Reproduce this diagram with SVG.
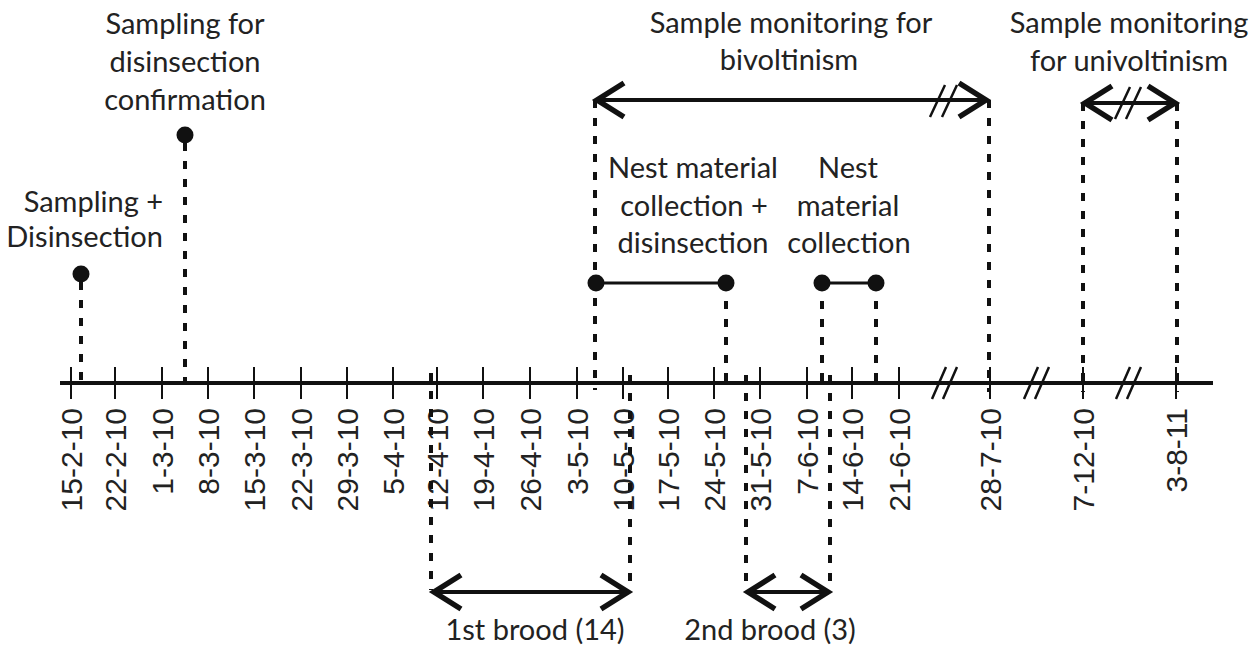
<svg xmlns="http://www.w3.org/2000/svg" width="1258" height="651" viewBox="0 0 1258 651">
<style>
.lbl{font-family:Lato,"Liberation Sans",sans-serif;font-size:29px;fill:#222;text-anchor:middle}
.tick{font-family:"Liberation Sans",Arial,sans-serif;font-size:30px;fill:#222;text-anchor:end}
.axis{stroke:#111;stroke-width:4;fill:none}
.tk{stroke:#111;stroke-width:2;fill:none}
.dash{stroke:#111;stroke-width:4;stroke-dasharray:8 10;fill:none}
.arr{stroke:#111;stroke-width:4;fill:none;marker-start:url(#chev);marker-end:url(#chev)}
.seg{stroke:#111;stroke-width:3;fill:none}
.brk{stroke:#111;stroke-width:2.5;fill:none}
.dot{fill:#111}
</style>
<defs>
<marker id="chev" markerUnits="userSpaceOnUse" orient="auto-start-reverse" refX="0" refY="0" markerWidth="40" markerHeight="40" viewBox="-35 -20 40 40" overflow="visible">
<path d="M-28,-17 L-1,0 L-28,17" fill="none" stroke="#111" stroke-width="5.5"/>
</marker>
</defs>
<rect width="1258" height="651" fill="#fff"/>

<g id="axis">
<line class="axis" x1="60" y1="383" x2="1213" y2="383"/>
<path class="tk" d="M71,367V399M115,367V399M162,367V399M208,367V399M254,367V399M301,367V399M347,367V399M393,367V399M437,367V399M483,367V399M530,367V399M577,367V399M623,367V399M668,367V399M714,367V399M760,367V399M807,367V399M852,367V399M899,367V399M990,367V399M1083,367V399M1176,367V399"/>
<g id="axis-breaks">
<path class="brk" d="M932,399L946,367M943,399L957,367M1024,399L1038,367M1035,399L1049,367M1116,399L1130,367M1127,399L1141,367"/>
</g>
<text class="tick" transform="translate(82,408) rotate(-90)">15-2-10</text>
<text class="tick" transform="translate(126,408) rotate(-90)">22-2-10</text>
<text class="tick" transform="translate(173,408) rotate(-90)">1-3-10</text>
<text class="tick" transform="translate(219,408) rotate(-90)">8-3-10</text>
<text class="tick" transform="translate(265,408) rotate(-90)">15-3-10</text>
<text class="tick" transform="translate(312,408) rotate(-90)">22-3-10</text>
<text class="tick" transform="translate(358,408) rotate(-90)">29-3-10</text>
<text class="tick" transform="translate(404,408) rotate(-90)">5-4-10</text>
<text class="tick" transform="translate(448,408) rotate(-90)">12-4-10</text>
<text class="tick" transform="translate(494,408) rotate(-90)">19-4-10</text>
<text class="tick" transform="translate(541,408) rotate(-90)">26-4-10</text>
<text class="tick" transform="translate(588,408) rotate(-90)">3-5-10</text>
<text class="tick" transform="translate(634,408) rotate(-90)">10-5-10</text>
<text class="tick" transform="translate(679,408) rotate(-90)">17-5-10</text>
<text class="tick" transform="translate(725,408) rotate(-90)">24-5-10</text>
<text class="tick" transform="translate(771,408) rotate(-90)">31-5-10</text>
<text class="tick" transform="translate(818,408) rotate(-90)">7-6-10</text>
<text class="tick" transform="translate(863,408) rotate(-90)">14-6-10</text>
<text class="tick" transform="translate(910,408) rotate(-90)">21-6-10</text>
<text class="tick" transform="translate(1001,408) rotate(-90)">28-7-10</text>
<text class="tick" transform="translate(1094,408) rotate(-90)">7-12-10</text>
<text class="tick" transform="translate(1187,408) rotate(-90)">3-8-11</text>
</g>

<g id="connectors">
<path class="dash" d="M81,282V383M185,143V383M595,100V390M989,100V392M1083,103V392M1177,103V392M726,283V382M822,283V382M876,283V382M431,373V590M630,375V590M746,375V590M830,375V590"/>
<line id="arrow-bivoltinism" class="arr" x1="596" y1="100" x2="987" y2="100"/>
<path class="brk" d="M930,117L945,85M942,117L957,85"/>
<line id="arrow-univoltinism" class="arr" x1="1084" y1="103" x2="1176" y2="103"/>
<path class="brk" d="M1115,119L1130,87M1126,119L1141,87"/>
<line id="arrow-brood1" class="arr" x1="433" y1="592" x2="629" y2="592"/>
<line id="arrow-brood2" class="arr" x1="747" y1="592" x2="829" y2="592"/>
</g>

<g id="node-sampling-disinsection">
<text class="lbl" style="text-anchor:end" x="163" y="212">Sampling +</text>
<text class="lbl" style="text-anchor:end" x="163" y="247">Disinsection</text>
<circle class="dot" cx="81" cy="274" r="8.5"/>
</g>

<g id="node-disinsection-confirmation">
<text class="lbl" x="185" y="34">Sampling for</text>
<text class="lbl" x="185" y="72">disinsection</text>
<text class="lbl" x="185" y="110">confirmation</text>
<circle class="dot" cx="185" cy="135" r="8.5"/>
</g>

<g id="node-nest-disinsection">
<text class="lbl" x="693" y="178">Nest material</text>
<text class="lbl" x="694" y="216">collection +</text>
<text class="lbl" x="693" y="253">disinsection</text>
<line class="seg" x1="596" y1="283" x2="726" y2="283"/>
<circle class="dot" cx="596" cy="283" r="8.5"/>
<circle class="dot" cx="726" cy="283" r="8.5"/>
</g>

<g id="node-nest-collection">
<text class="lbl" x="848" y="178">Nest</text>
<text class="lbl" x="848" y="216">material</text>
<text class="lbl" x="849" y="253">collection</text>
<line class="seg" x1="822" y1="283" x2="876" y2="283"/>
<circle class="dot" cx="822" cy="283" r="8.5"/>
<circle class="dot" cx="876" cy="283" r="8.5"/>
</g>

<g id="node-bivoltinism">
<text class="lbl" x="791" y="33">Sample monitoring for</text>
<text class="lbl" x="789" y="70">bivoltinism</text>
</g>

<g id="node-univoltinism">
<text class="lbl" x="1129" y="33">Sample monitoring</text>
<text class="lbl" x="1129" y="71">for univoltinism</text>
</g>

<g id="node-brood1">
<text class="lbl" x="535" y="640">1st brood (14)</text>
</g>

<g id="node-brood2">
<text class="lbl" x="770" y="640">2nd brood (3)</text>
</g>
</svg>
